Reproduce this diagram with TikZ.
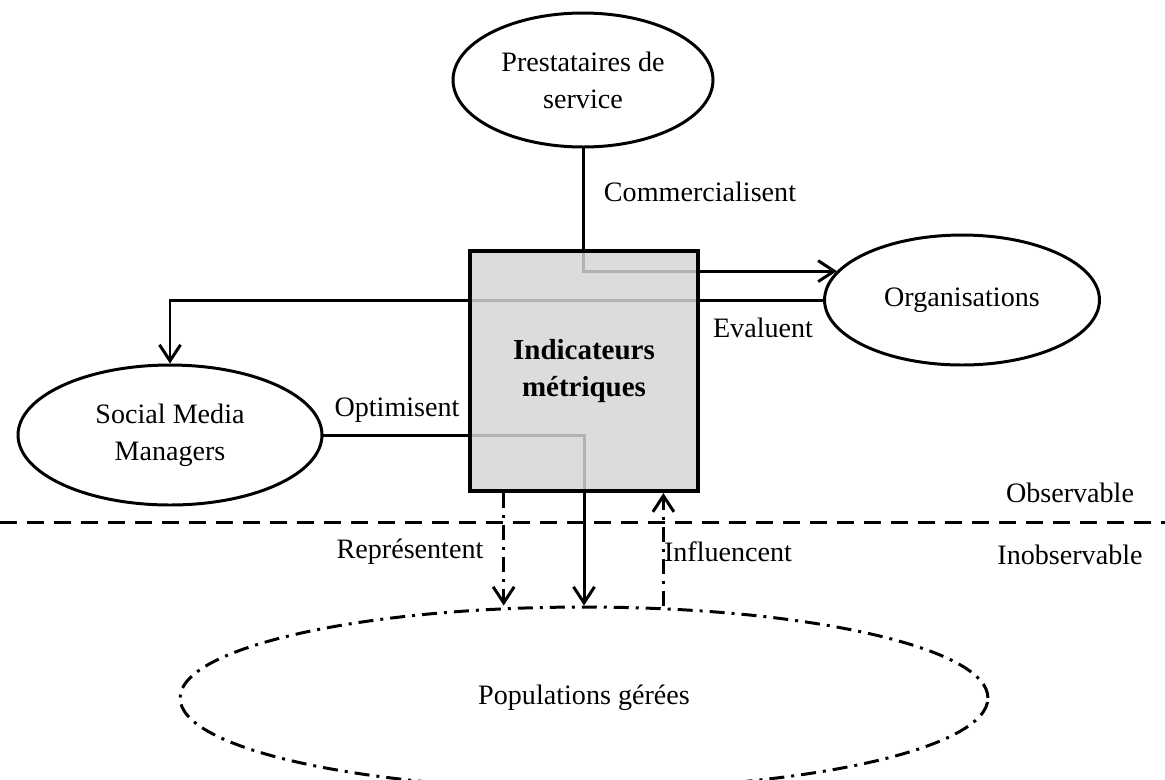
\documentclass[tikz,border=0pt]{standalone}
\usepackage{fontspec}
\setmainfont{Liberation Serif}
\usetikzlibrary{shapes,arrows.meta,positioning,calc}
\definecolor{boxgrey}{RGB}{213,213,213}
\tikzstyle{entity} = [ellipse, draw, line width=1.7pt, inner sep=0pt, align=center]
\tikzstyle{metric} = [rectangle, draw, line width=2.4pt, fill=boxgrey, fill opacity=0.84, text opacity=1, minimum width=4.56cm, minimum height=4.8cm, align=center, font=\fontsize{16.5}{21}\selectfont\bfseries]
\tikzstyle{action} = [align=center]
\tikzstyle{link} = [line width=1.7pt, -{Straight Barb[length=3.2mm,width=4.2mm]}]
\tikzstyle{dashdot} = [dash pattern=on 0.3cm off 0.14cm on 0.06cm off 0.14cm]

\begin{document}
\begin{tikzpicture}[x=0.02cm,y=-0.02cm,every node/.style={font=\fontsize{16}{21}\selectfont}]
            \useasboundingbox (0,0) rectangle (1165,779);
            \node [entity, minimum width=5.2cm, minimum height=2.68cm] (prest) at (583,80) {Prestataires de\\service};
            \node [entity, minimum width=5.5cm, minimum height=2.6cm] (orga) at (962,300) {Organisations};
            \node [entity, minimum width=6.08cm, minimum height=2.8cm] (smm) at (170,435) {Social Media\\Managers};
            \node [entity, dashdot, minimum width=16.16cm, minimum height=3.64cm] (popul) at (584,698) {Populations gérées};

            % these run under the box
            \draw[link](prest.south) |- (orga.167);
            \draw[link](orga.west) -| (smm.north);
            \draw[link](smm.east) -| (popul.north);

            \node [metric] (box) at (584,371) {Indicateurs\\métriques};

            \coordinate (rep) at ($(box.south west)!0.154!(box.south east)$);
            \coordinate (inf) at ($(box.south west)!0.842!(box.south east)$);
            \draw[link, dashdot](rep) -- (rep |- popul.north);
            \draw[link, dashdot](inf |- popul.north) -- (inf);

            \coordinate (sepl) at (0,522);
            \coordinate (sepr) at (1165,522);
            \draw[line width=1.7pt, dash pattern=on 0.34cm off 0.2cm](sepl) -- (sepr);

            \node [action] (comm) at (700,192) {Commercialisent};
            \node [action] (eval) at (763,328) {Evaluent};
            \node [action] (optim) at (397,410) {Optimisent};
            \node [action] (repr) at (410,552) {Représentent};
            \node [action] (influ) at (728,552) {Influencent};
            \node [action] (obs) at (1070,493) {Observable};
            \node [action] (inobs) at (1070,555) {Inobservable};
        \end{tikzpicture}
\end{document}
